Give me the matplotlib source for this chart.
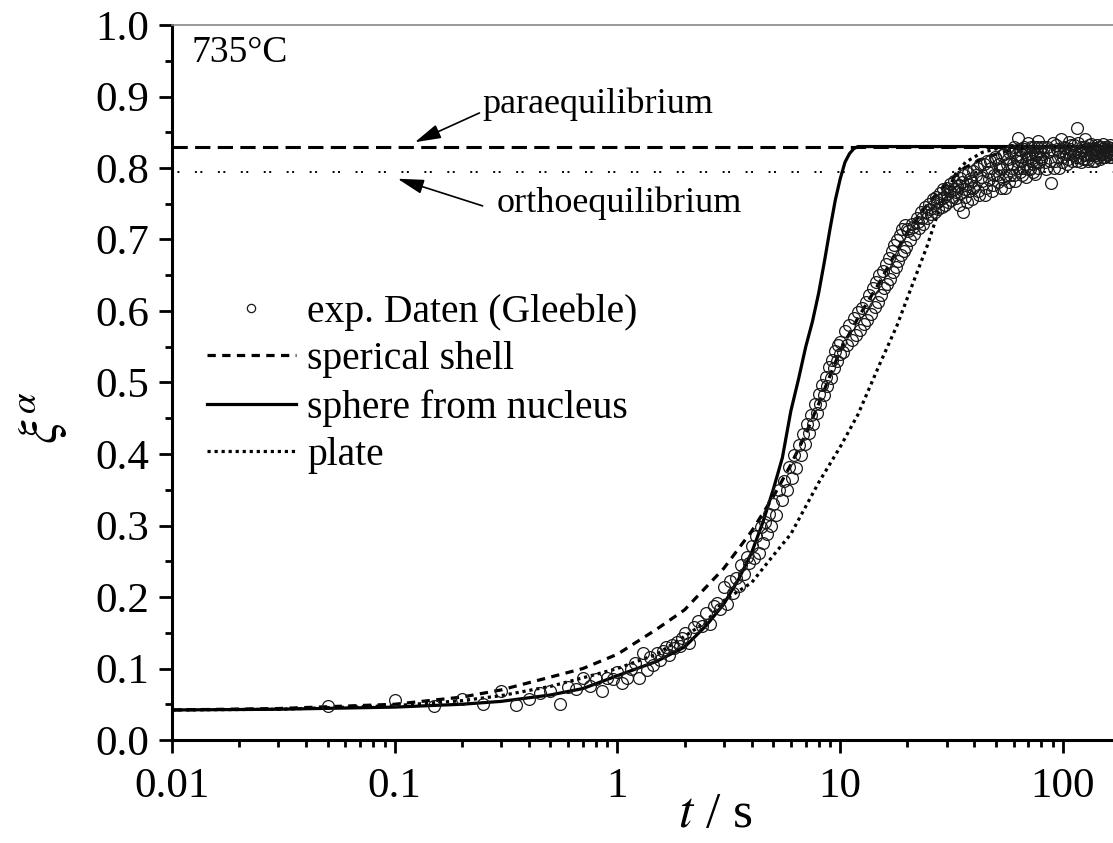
import numpy as np
import matplotlib
matplotlib.use('Agg')
import matplotlib.pyplot as plt
from matplotlib.ticker import FixedLocator, LogLocator, NullFormatter, MultipleLocator

plt.rcParams['font.family'] = ['Liberation Serif', 'DejaVu Serif']
plt.rcParams['mathtext.fontset'] = 'stix'

# experimental data (Gleeble), t in s
t_exp = [0.05, 0.10, 0.15, 0.20, 0.25, 0.30, 0.35, 0.40, 0.45, 0.50, 0.55, 0.60, 0.65, 0.70,
         0.75, 0.80, 0.85, 0.90, 0.95, 1.00, 1.05, 1.10, 1.15, 1.20, 1.25, 1.30, 1.35,
         1.4, 1.45, 1.5, 1.55, 1.6, 1.65, 1.7, 1.75, 1.8, 1.85, 1.9, 1.95, 2.0, 2.1, 2.2, 2.3,
         2.4, 2.5, 2.6, 2.7, 2.8, 2.9, 3.0, 3.1, 3.2, 3.3, 3.4, 3.5, 3.6, 3.7, 3.8, 3.9, 4.0,
         4.1, 4.2, 4.3, 4.4, 4.5, 4.6, 4.7, 4.8, 4.9, 5.0, 5.15, 5.3, 5.45, 5.6, 5.75, 5.9,
         6.05, 6.2, 6.35, 6.5, 6.65, 6.8, 6.95, 7.1, 7.25, 7.4, 7.55, 7.7, 7.85, 8.0, 8.15,
         8.3, 8.45, 8.6, 8.75, 8.9, 9.05, 9.2, 9.35, 9.5, 9.65, 9.8, 9.95,
         10.0, 10.25, 10.5, 10.75, 11.0, 11.25, 11.5, 11.75, 12.0, 12.25, 12.5, 12.75, 13.0,
         13.25, 13.5, 13.75, 14.0, 14.25, 14.5, 14.75, 15.0, 15.25, 15.5, 15.75, 16.0, 16.25,
         16.5, 16.75, 17.0, 17.25, 17.5, 17.75, 18.0, 18.25, 18.5, 18.75, 19.0, 19.25, 19.5,
         19.75,
         20.0, 20.5, 21.0, 21.5, 22.0, 22.5, 23.0, 23.5, 24.0, 24.5, 25.0, 25.5, 26.0, 26.5,
         27.0, 27.5, 28.0, 28.5, 29.0, 29.5, 30.0, 30.5, 31.0, 31.5, 32.0, 32.5, 33.0, 33.5,
         34.0, 34.5, 35.0, 35.5, 36.0, 36.5, 37.0, 37.5, 38.0, 38.5, 39.0, 39.5,
         40, 41, 42, 43, 44, 45, 46, 47, 48, 49, 50, 51, 52, 53, 54, 55, 56, 57, 58, 59, 60,
         61, 62, 63, 64, 65, 66, 67, 68, 69, 70, 71, 72, 73, 74, 75, 76, 77, 78, 79,
         80, 82, 84, 86, 88, 90, 92, 94, 96, 98, 100, 102, 104, 106, 108, 110, 112, 114, 116,
         118, 120, 122, 124, 126, 128, 130, 132, 134, 136, 138, 140, 142, 144, 146, 148, 150,
         152, 154, 156, 158, 160, 162, 164, 166, 168, 170]
xi_exp = [0.048, 0.056, 0.048, 0.057, 0.050, 0.068, 0.049, 0.057, 0.066, 0.069, 0.050, 0.074,
          0.071, 0.087, 0.076, 0.085, 0.069, 0.087, 0.085, 0.095, 0.080, 0.087, 0.100, 0.108,
          0.087, 0.122, 0.098,
          0.116, 0.105, 0.121, 0.112, 0.125, 0.130, 0.119, 0.133, 0.128, 0.137, 0.131, 0.142,
          0.150, 0.136, 0.158, 0.166, 0.160, 0.178, 0.162, 0.187, 0.192, 0.183, 0.214, 0.190,
          0.222, 0.205, 0.226, 0.215, 0.245, 0.232, 0.256, 0.248, 0.272, 0.255, 0.285, 0.262,
          0.298, 0.276, 0.305, 0.288, 0.316, 0.300, 0.330, 0.315, 0.350, 0.336, 0.362, 0.350,
          0.382, 0.366, 0.398, 0.380, 0.412, 0.398, 0.428, 0.414, 0.442, 0.430, 0.455, 0.442,
          0.470, 0.458, 0.484, 0.470, 0.496, 0.482, 0.508, 0.495, 0.522, 0.506, 0.532, 0.520,
          0.544, 0.530, 0.552, 0.540,
          0.556, 0.542, 0.572, 0.552, 0.580, 0.560, 0.590, 0.566, 0.598, 0.574, 0.604, 0.582,
          0.612, 0.588, 0.622, 0.596, 0.632, 0.605, 0.640, 0.612, 0.650, 0.622, 0.656, 0.632,
          0.666, 0.638, 0.674, 0.645, 0.684, 0.655, 0.692, 0.662, 0.700, 0.670, 0.706, 0.678,
          0.714, 0.684, 0.720, 0.690,
          0.715, 0.700, 0.722, 0.708, 0.730, 0.716, 0.738, 0.722, 0.745, 0.730, 0.750, 0.735,
          0.756, 0.738, 0.760, 0.742, 0.765, 0.745, 0.770, 0.748, 0.772, 0.752, 0.778, 0.755,
          0.760, 0.782, 0.758, 0.775, 0.748, 0.786, 0.765, 0.738, 0.790, 0.770, 0.752, 0.793,
          0.768, 0.782, 0.757, 0.796,
          0.775, 0.800, 0.762, 0.788, 0.805, 0.772, 0.795, 0.810, 0.768, 0.790, 0.812, 0.780,
          0.798, 0.818, 0.785, 0.772, 0.806, 0.822, 0.790, 0.800, 0.830, 0.782, 0.810, 0.842,
          0.795, 0.815, 0.800, 0.826, 0.788, 0.812, 0.835, 0.798, 0.820, 0.805, 0.830, 0.792,
          0.818, 0.838, 0.808, 0.824,
          0.812, 0.830, 0.798, 0.822, 0.779, 0.835, 0.810, 0.826, 0.800, 0.840, 0.815, 0.828,
          0.806, 0.836, 0.820, 0.810, 0.832, 0.815, 0.856, 0.822, 0.808, 0.830, 0.818, 0.840,
          0.812, 0.826, 0.820, 0.834, 0.810, 0.828, 0.818, 0.832, 0.822, 0.812, 0.830, 0.820,
          0.834, 0.815, 0.826, 0.822, 0.830, 0.816, 0.828, 0.820, 0.825, 0.818]

# further samples of the same run in the dense region
t_exp2 = [20.25, 21.25, 22.25, 23.25, 24.25, 25.25, 26.25, 27.25, 28.25, 29.25, 30.25, 31.25,
          32.25, 33.25, 34.25, 35.25, 36.25, 37.25, 38.25, 39.25,
          40.5, 41.5, 42.5, 43.5, 44.5, 45.5, 46.5, 47.5, 48.5, 49.5, 50.5, 51.5, 52.5, 53.5,
          54.5, 55.5, 56.5, 57.5, 58.5, 59.5, 60.5, 61.5, 62.5, 63.5, 64.5, 65.5, 66.5, 67.5,
          68.5, 69.5, 70.5, 71.5, 72.5, 73.5, 74.5, 75.5, 76.5, 77.5, 78.5, 79.5,
          81, 83, 85, 87, 89, 91, 93, 95, 97, 99, 101, 103, 105, 107, 109, 111, 113, 115, 117,
          119, 121, 123, 125, 127, 129, 131, 133, 135, 137, 139, 141, 143, 145, 147, 149, 151,
          153, 155, 157, 159, 161, 163, 165, 167, 169]
xi_exp2 = [0.712, 0.718, 0.724, 0.730, 0.738, 0.742, 0.748, 0.752, 0.757, 0.760, 0.764, 0.768,
           0.770, 0.766, 0.776, 0.780, 0.760, 0.778, 0.785, 0.772,
           0.790, 0.768, 0.805, 0.782, 0.762, 0.810, 0.785, 0.800, 0.776, 0.815, 0.790, 0.805,
           0.772, 0.800, 0.820, 0.790, 0.812, 0.780, 0.825, 0.805, 0.790, 0.818, 0.800, 0.826,
           0.810, 0.790, 0.830, 0.805, 0.820, 0.798, 0.815, 0.830, 0.810, 0.795, 0.820, 0.808,
           0.830, 0.800, 0.815, 0.830,
           0.820, 0.808, 0.830, 0.810, 0.825, 0.800, 0.832, 0.815, 0.822, 0.808, 0.830, 0.820,
           0.812, 0.826, 0.832, 0.818, 0.822, 0.810, 0.835, 0.815, 0.825, 0.812, 0.830, 0.820,
           0.810, 0.832, 0.818, 0.826, 0.820, 0.810, 0.826, 0.815, 0.830, 0.820, 0.826, 0.815,
           0.822, 0.830, 0.818, 0.825, 0.820, 0.832, 0.815, 0.826, 0.820]

# model: sperical shell
t_shell = [0.01, 0.03, 0.1, 0.2, 0.3, 0.5, 0.7, 1.0, 1.5, 2.0, 3.0, 4.0, 5.0, 6.0, 7.0, 8.0,
           10, 12, 15, 18, 20, 25, 30, 36, 45, 55, 70, 100, 200]
xi_shell = [0.042, 0.044, 0.050, 0.060, 0.070, 0.088, 0.100, 0.120, 0.155, 0.182, 0.240,
            0.292, 0.340, 0.385, 0.428, 0.470, 0.545, 0.590, 0.640, 0.685, 0.710, 0.752,
            0.778, 0.800, 0.815, 0.823, 0.828, 0.830, 0.830]

# model: sphere from nucleus
t_sphere = [0.01, 0.03, 0.1, 0.2, 0.3, 0.5, 0.7, 1.0, 1.5, 2.0, 2.5, 3.0, 3.5, 4.0, 4.5, 5.0,
            5.5, 6.0, 6.5, 7.0, 7.5, 8.0, 8.5, 9.0, 9.5, 10.0, 10.5, 11.0, 11.5, 12.0, 200]
xi_sphere = [0.042, 0.043, 0.046, 0.050, 0.054, 0.063, 0.072, 0.090, 0.110, 0.130, 0.160,
             0.190, 0.225, 0.262, 0.305, 0.350, 0.395, 0.460, 0.505, 0.550, 0.585, 0.625,
             0.670, 0.715, 0.755, 0.785, 0.808, 0.820, 0.827, 0.830, 0.830]

# model: plate
t_plate = [0.01, 0.03, 0.1, 0.2, 0.3, 0.5, 0.7, 1.0, 1.5, 2.0, 2.5, 3.0, 4.0, 5.0, 6.0, 8.0,
           10, 12, 15, 18, 20, 22, 24.5, 27, 30, 33, 36.5, 43.5, 52, 65, 200]
xi_plate = [0.042, 0.043, 0.048, 0.055, 0.062, 0.075, 0.087, 0.100, 0.120, 0.145, 0.165,
            0.195, 0.220, 0.258, 0.288, 0.360, 0.410, 0.455, 0.525, 0.580, 0.618, 0.652,
            0.690, 0.730, 0.765, 0.792, 0.808, 0.822, 0.828, 0.830, 0.830]

para = 0.83
ortho = 0.795
x_ticks = [0.01, 0.1, 1, 10, 100]
x_labels = ['0.01', '0.1', '1', '10', '100']

fig = plt.figure(figsize=(11.13, 8.43), dpi=100)
ax = fig.add_axes([172/1113, 103/843, 941/1113, 715/843])

ax.axhline(para, color='black', lw=2.2, ls=(0, (5, 2.4)), zorder=2)
ax.axhline(ortho, color='black', lw=1.4, ls=(0, (1, 1.8, 1, 8)), zorder=2)

ax.plot(t_shell, xi_shell, color='black', lw=2.3, ls=(0, (2.6, 2.0)), label='sperical shell', zorder=3)
ax.plot(t_sphere, xi_sphere, color='black', lw=2.3, ls='-', label='sphere from nucleus', zorder=3)
ax.plot(t_plate, xi_plate, color='black', lw=2.3, ls=(0, (1, 1.2)), label='plate', zorder=3)
ax.plot(t_exp + t_exp2, xi_exp + xi_exp2, ls='none', marker='o', ms=8.5, mfc='none',
        mec='#1a1a1a', mew=0.9, label='exp. Daten (Gleeble)', zorder=4)

ax.set_xscale('log')
ax.set_xlim(0.01, 167.7)
ax.set_ylim(0, 1.0)

ax.xaxis.set_major_locator(FixedLocator(x_ticks))
ax.set_xticklabels(x_labels)
ax.xaxis.set_minor_locator(LogLocator(base=10, subs=np.arange(2, 10)))
ax.xaxis.set_minor_formatter(NullFormatter())
ax.yaxis.set_major_locator(MultipleLocator(0.1))
ax.yaxis.set_minor_locator(MultipleLocator(0.05))
ax.yaxis.set_major_formatter(plt.FormatStrFormatter('%.1f'))

ax.tick_params(which='major', direction='out', length=9.5, width=2, labelsize=31, pad=7)
ax.tick_params(axis='x', which='major', pad=10)
ax.tick_params(which='minor', direction='out', length=5, width=2)
ax.tick_params(top=False, right=False)

for side in ['left', 'bottom']:
    ax.spines[side].set_linewidth(2.2)
ax.spines['top'].set_linewidth(1.2)
ax.spines['top'].set_color('#888888')
ax.spines['right'].set_visible(False)

ax.set_xlabel(r'$t$ / s', fontsize=37)
ax.xaxis.set_label_coords(0.577, -0.072)
ax.set_ylabel(r'$\xi^{\alpha}$', fontsize=38, va='center')
ax.yaxis.set_label_coords(-0.138, 0.45)

ax.text(0.021, 0.985, '735°C', transform=ax.transAxes, fontsize=27, va='top', ha='left')

ax.annotate('', xy=(0.123, 0.836), xytext=(0.24, 0.877),
            arrowprops=dict(arrowstyle='-|>,head_length=0.8,head_width=0.22', color='black',
                            lw=1.2, shrinkA=0, shrinkB=0, mutation_scale=20))
ax.text(0.248, 0.889, 'paraequilibrium', fontsize=26, va='center', ha='left')
ax.annotate('', xy=(0.103, 0.785), xytext=(0.248, 0.747),
            arrowprops=dict(arrowstyle='-|>,head_length=0.8,head_width=0.22', color='black',
                            lw=1.2, shrinkA=0, shrinkB=0, mutation_scale=20))
ax.text(0.286, 0.751, 'orthoequilibrium', fontsize=26, va='center', ha='left')

h, l = ax.get_legend_handles_labels()
order = [3, 0, 1, 2]
ax.legend([h[i] for i in order], [l[i] for i in order], loc='upper left',
          bbox_to_anchor=(0.037, 0.625), frameon=False, fontsize=28.5, borderpad=0,
          borderaxespad=0, handlelength=2.25, handletextpad=0.28, labelspacing=0.27,
          markerscale=0.7)

fig.savefig('out.png', dpi=100)
